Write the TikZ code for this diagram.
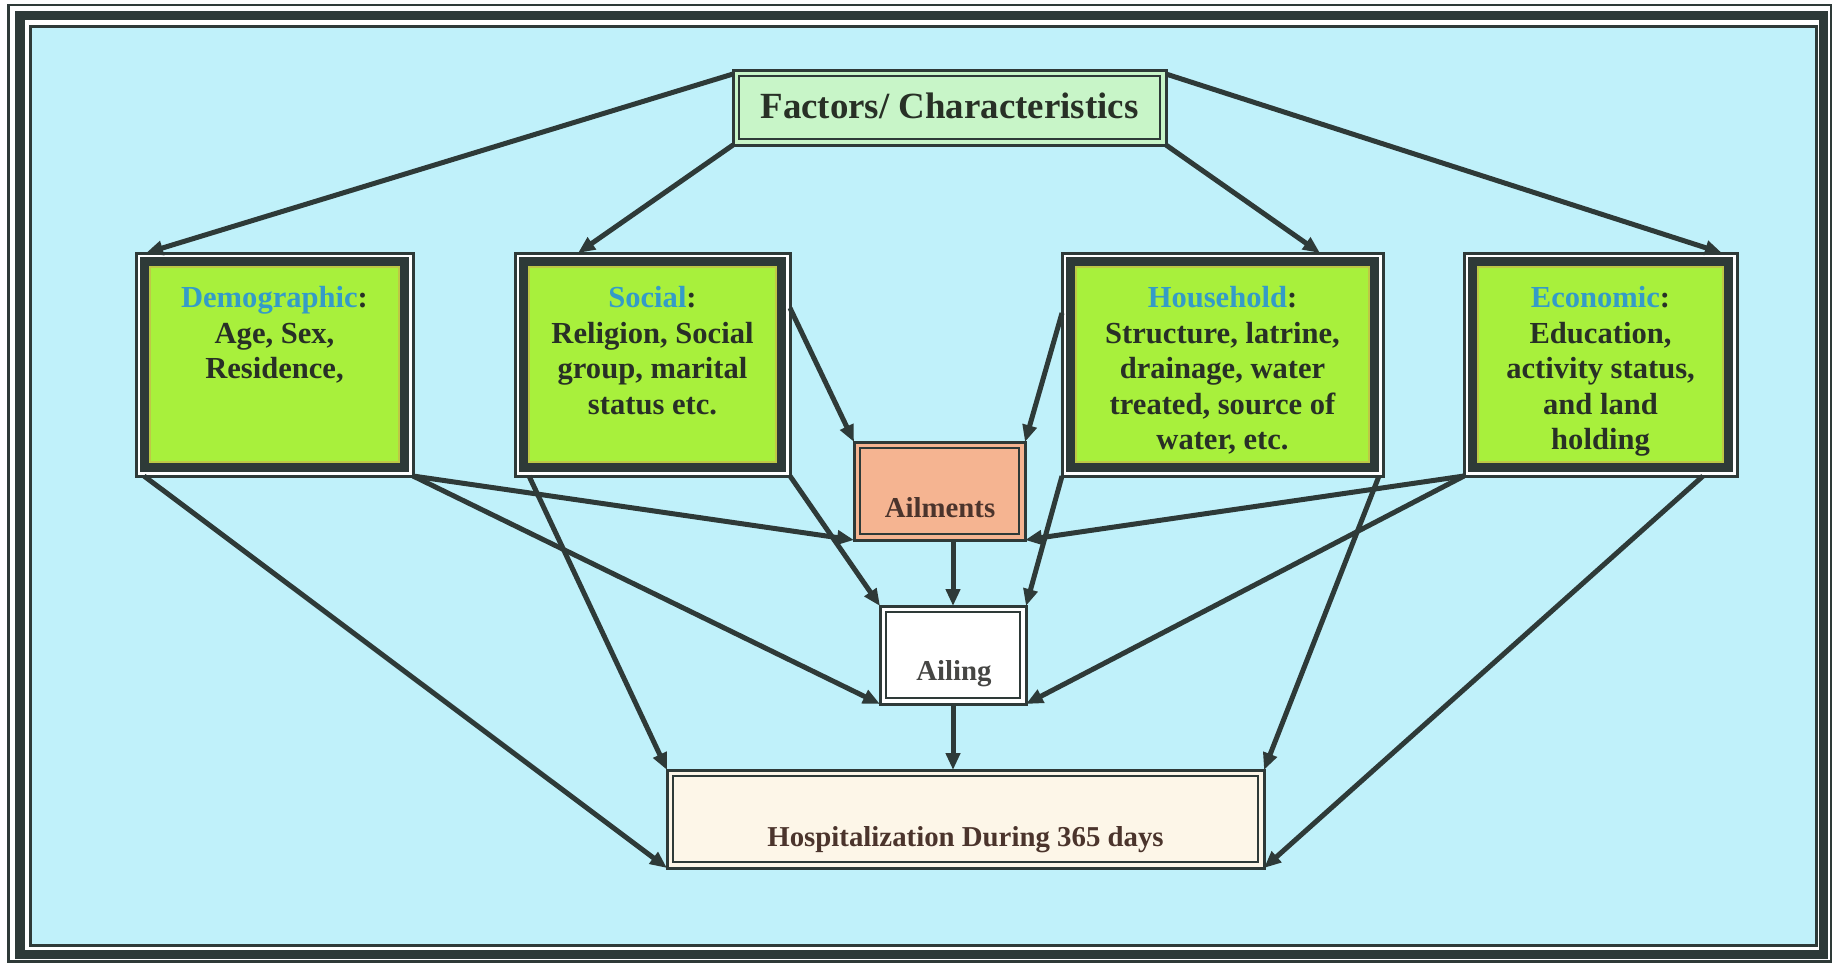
\documentclass[tikz,border=0pt]{standalone}
\usepackage{fontspec}
\setmainfont{Liberation Serif}
\usetikzlibrary{arrows.meta}
\definecolor{bgblue}{RGB}{192,241,250}
\definecolor{dark}{RGB}{46,58,56}
\definecolor{boxgreen}{RGB}{168,240,60}
\definecolor{yline}{RGB}{190,200,70}
\definecolor{facgreen}{RGB}{200,245,200}
\definecolor{salmon}{RGB}{245,180,145}
\definecolor{cream}{RGB}{253,246,232}
\definecolor{titleblue}{RGB}{52,155,200}
\definecolor{txtdark}{RGB}{40,48,38}
\definecolor{txtbrown}{RGB}{75,52,44}
\definecolor{txtgray}{RGB}{70,70,68}
\newcommand{\blueword}[1]{\textcolor{titleblue}{#1}}
\tikzset{
  conn/.style={draw=dark, line width=0.5mm, -{Triangle[length=1.7mm,width=1.4mm]}},
  gbox/.style={rectangle, draw=dark, line width=0.3mm, fill=white, inner sep=0pt, outer sep=0pt,
    path picture={
      \fill[dark] ([shift={(4,4)}]path picture bounding box.north west) rectangle ([shift={(-4,-4)}]path picture bounding box.south east);
      \fill[yline] ([shift={(13,13)}]path picture bounding box.north west) rectangle ([shift={(-13,-13)}]path picture bounding box.south east);
      \fill[boxgreen] ([shift={(15,15)}]path picture bounding box.north west) rectangle ([shift={(-15,-15)}]path picture bounding box.south east);
    }},
  dbox/.style={rectangle, draw=dark, line width=0.3mm, fill=#1, inner sep=0pt, outer sep=0pt,
    path picture={
      \draw[dark, line width=0.25mm] ([shift={(6,6)}]path picture bounding box.north west) rectangle ([shift={(-6,-6)}]path picture bounding box.south east);
    }},
  boxtext/.style={anchor=north, inner sep=0pt, align=center, text=txtdark,
    font=\bfseries\fontsize{8.7}{10.1}\selectfont},
  smalltext/.style={anchor=base, inner sep=0pt, font=\bfseries\fontsize{8.2}{9.8}\selectfont},
}
\begin{document}
\begin{tikzpicture}[x=0.1mm,y=-0.1mm]
\useasboundingbox (0,0) rectangle (1835,963);
\fill[white] (0,0) rectangle (1835,963);
\fill[bgblue] (31,27) rectangle (1816,945);
% outer frame
\draw[dark, line width=0.28mm] (8.5,5) rectangle (1831,961.5);
\draw[dark, line width=0.95mm] (20,15.5) rectangle (1823.5,954.5);
\draw[dark, line width=0.3mm] (30.5,26) rectangle (1816,945.5);

% nodes
\node[dbox=facgreen, minimum width=43.3mm, minimum height=7.5mm] (fac) at (949.5,107.5) {};
\node[inner sep=0pt, text=txtdark, font=\bfseries\fontsize{10.5}{12}\selectfont] (facT) at (949.5,106) {Factors/ Characteristics};

\node[gbox, minimum width=27.7mm, minimum height=22.3mm] (demo) at (274.5,364.5) {};
\node[gbox, minimum width=27.5mm, minimum height=22.3mm] (soc) at (652.5,364.5) {};
\node[gbox, minimum width=32.1mm, minimum height=22.3mm] (hh) at (1222.5,364.5) {};
\node[gbox, minimum width=27.3mm, minimum height=22.3mm] (eco) at (1600.5,364.5) {};

\node[boxtext] (demoT) at ([shift={(0,33)}]demo.north) {\blueword{Demographic}:\\Age, Sex,\\Residence,};
\node[boxtext] (socT) at ([shift={(0,33)}]soc.north) {\blueword{Social}:\\Religion, Social\\group, marital\\status etc.};
\node[boxtext] (hhT) at ([shift={(0,33)}]hh.north) {\blueword{Household}:\\Structure, latrine,\\drainage, water\\treated, source of\\water, etc.};
\node[boxtext] (ecoT) at ([shift={(0,33)}]eco.north) {\blueword{Economic}:\\Education,\\activity status,\\and land\\holding};

\node[dbox=salmon, minimum width=17.1mm, minimum height=9.8mm] (ailm) at (939.5,491) {};
\node[smalltext, text=txtbrown] (ailmT) at ([shift={(0.5,26)}]ailm.center) {Ailments};

\node[dbox=white, minimum width=14.6mm, minimum height=9.8mm] (ailing) at (953,655) {};
\node[smalltext, text=txtgray] (ailingT) at ([shift={(1,25)}]ailing.center) {Ailing};

\node[dbox=cream, minimum width=59.7mm, minimum height=9.8mm] (hosp) at (965.5,819) {};
\node[smalltext, text=txtbrown] (hospT) at ([shift={(0,27)}]hosp.center) {Hospitalization During 365 days};

% connectors
\draw[conn] ([shift={(0,4)}]fac.north west) -- ([shift={(10,0)}]demo.north west);
\draw[conn] (fac.south west) -- ([shift={(63,0)}]soc.north west);
\draw[conn] (fac.south east) -- ([shift={(-63,0)}]hh.north east);
\draw[conn] ([shift={(0,4)}]fac.north east) -- ([shift={(-15,0)}]eco.north east);

\draw[conn] ([shift={(0,55)}]soc.north east) -- (ailm.north west);
\draw[conn] ([shift={(0,60)}]hh.north west) -- (ailm.north east);

\draw[conn] (demo.south east) -- (ailm.south west);
\draw[conn] (demo.south east) -- (ailing.south west);
\draw[conn] (soc.south east) -- (ailing.north west);
\draw[conn] (hh.south west) -- (ailing.north east);
\draw[conn] (eco.south west) -- (ailm.south east);
\draw[conn] (eco.south west) -- (ailing.south east);

\draw[conn] ([shift={(8,0)}]demo.south west) -- (hosp.south west);
\draw[conn] ([shift={(14,0)}]soc.south west) -- (hosp.north west);
\draw[conn] ([shift={(-4,0)}]hh.south east) -- (hosp.north east);
\draw[conn] ([shift={(-34,0)}]eco.south east) -- (hosp.south east);

\draw[conn] (ailm.south -| ailing.north) -- (ailing.north);
\draw[conn] (ailing.south) -- (ailing.south |- hosp.north);
\end{tikzpicture}
\end{document}
